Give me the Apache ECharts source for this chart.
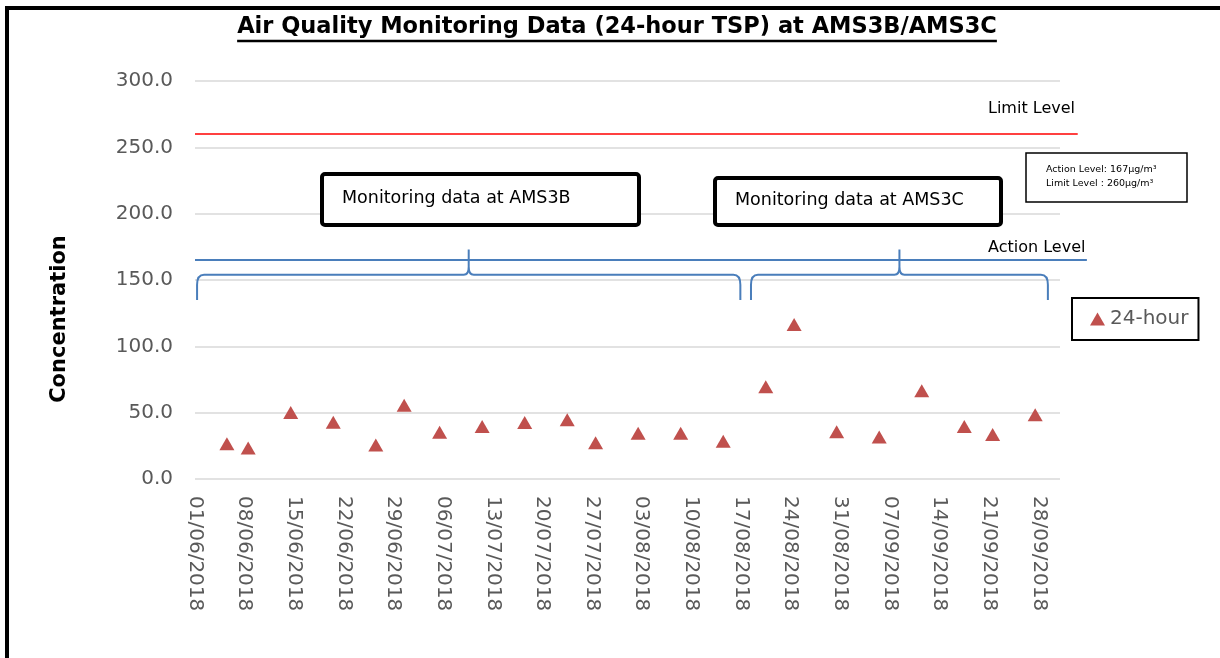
<!DOCTYPE html>
<html>
<head>
<meta charset="utf-8">
<script src="https://cdn.jsdelivr.net/npm/echarts@6/dist/echarts.min.js"></script>
<style>
html, body { margin: 0; padding: 0; background: #fff; }
#main { width: 1220px; height: 658px; }
</style>
</head>
<body>
<div id="main"></div>
<script>
// 24-hour TSP samples (date, concentration)
var sampleDates = ['2018-06-05', '2018-06-08', '2018-06-14', '2018-06-20', '2018-06-26', '2018-06-30',
    '2018-07-05', '2018-07-11', '2018-07-17', '2018-07-23', '2018-07-27', '2018-08-02',
    '2018-08-08', '2018-08-14', '2018-08-20', '2018-08-24', '2018-08-30', '2018-09-05',
    '2018-09-11', '2018-09-17', '2018-09-21', '2018-09-27'];
var tspValues = [26.5, 23.4, 50.2, 42.7, 25.6, 55.5,
    35.3, 39.6, 42.6, 44.7, 27.3, 34.5,
    34.5, 28.5, 69.6, 116.5, 35.6, 31.6,
    66.5, 39.6, 33.6, 48.5];

// axis ranges
var xRange = ['2018-06-01', '2018-10-01'];
var xTickDays = 7;
var yRange = [0, 300];
var yTickStep = 50;

// drawn level lines
var limitLevel = 260;
var limitSpan = ['2018-06-01', '2018-10-03T12:00'];
var actionLevel = 165;
var actionSpan = ['2018-06-01', '2018-10-04T19:00'];

// station periods (for the braces)
var periodAMS3B = ['2018-06-01T07:00', '2018-08-16T22:00'];
var periodAMS3C = ['2018-08-18T10:00', '2018-09-29T07:00'];
var braceLevels = [135, 154, 173]; // ends, arms, tip

var DAY = 86400000;
function toTime(s) {
    var p = s.split(/[-T:]/);
    return Date.UTC(+p[0], +p[1] - 1, +p[2], +(p[3] || 0), +(p[4] || 0));
}
function pad(n) { return n < 10 ? '0' + n : '' + n; }

var xMin = toTime(xRange[0]);
var xMax = toTime(xRange[1]);

// excel date axis plots each day in the middle of its slot
var points = sampleDates.map(function (d, i) { return [toTime(d) + DAY / 2, tspValues[i]]; });

// x pixel of a time, extrapolated past the axis ends if needed
function xPixel(api, t) {
    var p0 = api.coord([xMin, 0]);
    var p1 = api.coord([xMax, 0]);
    return p0[0] + (t - xMin) * (p1[0] - p0[0]) / (xMax - xMin);
}

function levelSeries(name, span, level, color, width) {
    return {
        name: name,
        type: 'custom',
        silent: true,
        z: 3,
        data: [[toTime(span[0]), toTime(span[1]), level]],
        renderItem: function (params, api) {
            var y = api.coord([xMin, api.value(2)])[1];
            return {
                type: 'line',
                shape: { x1: xPixel(api, api.value(0)), y1: y, x2: xPixel(api, api.value(1)), y2: y },
                style: { stroke: color, lineWidth: width }
            };
        }
    };
}

function bracePath(x1, x2, yE, yM, yT) {
    var xm = (x1 + x2) / 2;
    return 'M' + x1 + ' ' + yE + ' L' + x1 + ' ' + (yM + 10) +
        ' Q' + x1 + ' ' + yM + ' ' + (x1 + 7) + ' ' + yM +
        ' L' + (xm - 5) + ' ' + yM +
        ' Q' + xm + ' ' + yM + ' ' + xm + ' ' + (yM - 8) +
        ' L' + xm + ' ' + yT +
        ' M' + xm + ' ' + (yM - 8) +
        ' Q' + xm + ' ' + yM + ' ' + (xm + 5) + ' ' + yM +
        ' L' + (x2 - 7) + ' ' + yM +
        ' Q' + x2 + ' ' + yM + ' ' + x2 + ' ' + (yM + 10) +
        ' L' + x2 + ' ' + yE;
}

var myChart = echarts.init(document.getElementById('main'));

var option = {
    animation: false,
    backgroundColor: '#fff',
    grid: { left: 195, right: 160, top: 81, bottom: 179 },
    legend: {
        left: 1072, top: 298,
        orient: 'horizontal',
        padding: [11, 10, 11, 18],
        itemWidth: 15, itemHeight: 13,
        borderColor: '#000', borderWidth: 2,
        backgroundColor: '#fff',
        data: [{ name: '24-hour', icon: 'triangle' }],
        textStyle: { color: '#595959', fontSize: 20, fontFamily: 'DejaVu Sans' }
    },
    xAxis: {
        type: 'value',
        min: xMin, max: xMax,
        interval: xTickDays * DAY,
        axisLine: { show: false },
        axisTick: { show: false },
        splitLine: { show: false },
        axisLabel: {
            rotate: -90,
            margin: 17,
            color: '#595959',
            fontSize: 20,
            fontFamily: 'DejaVu Sans',
            formatter: function (v) {
                var days = Math.round((v - xMin) / DAY);
                if (days % xTickDays !== 0) return '';
                var d = new Date(v);
                return pad(d.getUTCDate()) + '/' + pad(d.getUTCMonth() + 1) + '/' + d.getUTCFullYear();
            }
        }
    },
    yAxis: {
        type: 'value',
        min: yRange[0], max: yRange[1],
        interval: yTickStep,
        axisLine: { show: false },
        axisTick: { show: false },
        splitLine: { lineStyle: { color: '#d9d9d9', width: 1.5 } },
        axisLabel: {
            margin: 22,
            color: '#595959',
            fontSize: 20,
            fontFamily: 'DejaVu Sans',
            formatter: function (v) { return v.toFixed(1); }
        }
    },
    series: [
        levelSeries('Limit Level', limitSpan, limitLevel, '#ff0000', 1.5),
        levelSeries('Action Level', actionSpan, actionLevel, '#4a7ebb', 2),
        {
            name: 'braces',
            type: 'custom',
            silent: true,
            z: 4,
            data: [periodAMS3B, periodAMS3C].map(function (p) { return [toTime(p[0]), toTime(p[1])]; }),
            renderItem: function (params, api) {
                var a = api.coord([api.value(0), braceLevels[0]]);
                var b = api.coord([api.value(1), braceLevels[0]]);
                var yM = api.coord([api.value(0), braceLevels[1]])[1];
                var yT = api.coord([api.value(0), braceLevels[2]])[1];
                return {
                    type: 'path',
                    shape: { pathData: bracePath(a[0], b[0], a[1], yM, yT) },
                    style: { stroke: '#4a7ebb', lineWidth: 2, fill: 'none' }
                };
            }
        },
        {
            name: '24-hour',
            type: 'scatter',
            symbol: 'triangle',
            symbolSize: [15, 13],
            itemStyle: { color: '#c0504d', opacity: 1 },
            data: points,
            z: 5
        }
    ]
};
myChart.setOption(option);

// annotations
var titleText = 'Air Quality Monitoring Data (24-hour TSP) at AMS3B/AMS3C';
var titleFont = 'bold 22.5px "DejaVu Sans"';
var cv = document.createElement('canvas').getContext('2d');
cv.font = titleFont;
var titleW = cv.measureText(titleText).width;
var titleX = 617;

function labelBox(x, y, w, h, text, tx, ty) {
    return {
        type: 'group',
        z: 100,
        children: [
            { type: 'rect', shape: { x: x, y: y, width: w, height: h, r: 3 },
              style: { fill: '#fff', stroke: '#000', lineWidth: 4 } },
            { type: 'text', x: tx, y: ty,
              style: { text: text, fill: '#000', font: '17.5px "DejaVu Sans"', verticalAlign: 'middle' } }
        ]
    };
}

myChart.setOption({
    graphic: [
        // page frame (left and top edges only are visible)
        { type: 'line', z: 100, shape: { x1: 7, y1: 6, x2: 7, y2: 660 },
          style: { stroke: '#000', lineWidth: 4 } },
        { type: 'line', z: 100, shape: { x1: 5, y1: 8, x2: 1220, y2: 8 },
          style: { stroke: '#000', lineWidth: 4 } },
        { type: 'text', z: 100, x: titleX, y: 27,
          style: { text: titleText, font: titleFont, fill: '#000', align: 'center', verticalAlign: 'middle' } },
        { type: 'line', z: 100, shape: { x1: titleX - titleW / 2, y1: 41, x2: titleX + titleW / 2, y2: 41 },
          style: { stroke: '#000', lineWidth: 2.5 } },
        { type: 'text', z: 100, x: 60, y: 319, rotation: Math.PI / 2,
          style: { text: 'Concentration', font: 'bold 21px "DejaVu Sans"', fill: '#000', align: 'center', verticalAlign: 'middle' } },
        { type: 'text', z: 100, x: 988, y: 109,
          style: { text: 'Limit Level', font: '16px "DejaVu Sans"', fill: '#000', verticalAlign: 'middle' } },
        { type: 'text', z: 100, x: 988, y: 248,
          style: { text: 'Action Level', font: '16px "DejaVu Sans"', fill: '#000', verticalAlign: 'middle' } },
        labelBox(322, 174, 317, 51, 'Monitoring data at AMS3B', 342, 198),
        labelBox(715, 178, 286, 47, 'Monitoring data at AMS3C', 735, 200),
        {
            type: 'group', z: 100,
            children: [
                { type: 'rect', shape: { x: 1026, y: 153, width: 161, height: 49 },
                  style: { fill: '#fff', stroke: '#000', lineWidth: 1.5 } },
                { type: 'text', x: 1046, y: 170,
                  style: { text: 'Action Level: 167\u00b5g/m\u00b3', font: '9.5px "DejaVu Sans"', fill: '#000', verticalAlign: 'middle' } },
                { type: 'text', x: 1046, y: 184,
                  style: { text: 'Limit Level : 260\u00b5g/m\u00b3', font: '9.5px "DejaVu Sans"', fill: '#000', verticalAlign: 'middle' } }
            ]
        }
    ]
});
</script>
</body>
</html>
